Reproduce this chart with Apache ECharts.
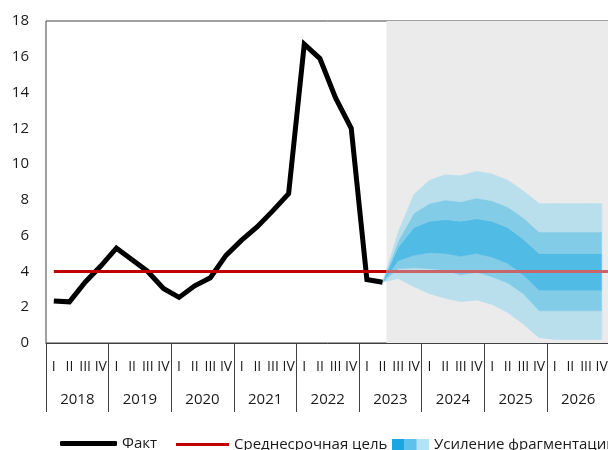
<!DOCTYPE html>
<html>
<head>
<meta charset="utf-8">
<script src="https://cdn.jsdelivr.net/npm/echarts@6/dist/echarts.min.js"></script>
<style>
html,body{margin:0;padding:0;background:#fff;}
#chart{width:608px;height:450px;}
</style>
</head>
<body>
<div id="chart"></div>
<script>
// ---- data ----
const years = ['2018','2019','2020','2021','2022','2023','2024','2025','2026'];
const quarterNames = ['I','II','III','IV'];
const fact = [2.35,2.3,3.4,4.3, 5.3,4.65,4.0,3.05, 2.55,3.2,3.65,4.9, 5.75,6.5,7.4,8.35, 16.7,15.9,13.7,12.0, 3.55,3.4];
const targetValue = 4;
const fanStartIndex = 21; // 2023 Q2
const outerUp  = [3.4,6.2,8.3,9.1,9.4,9.35,9.6,9.45,9.1,8.5,7.8,7.8,7.8,7.8,7.8];
const midUp    = [3.4,5.7,7.25,7.8,8.0,7.9,8.1,7.95,7.6,7.0,6.2,6.2,6.2,6.2,6.2];
const innerUp  = [3.4,5.35,6.45,6.8,6.9,6.8,6.95,6.8,6.45,5.8,5.0,5.0,5.0,5.0,5.0];
const innerLow = [3.4,4.6,4.9,5.05,5.0,4.85,5.0,4.8,4.45,3.8,2.95,2.95,2.95,2.95,2.95];
const midLow   = [3.4,4.15,4.2,4.15,4.05,3.8,3.95,3.7,3.35,2.75,1.8,1.8,1.8,1.8,1.8];
const outerLow = [3.4,3.6,3.15,2.75,2.5,2.3,2.4,2.15,1.7,1.05,0.3,0.2,0.2,0.2,0.2];
const forecastZoneStart = 21.75;

// ---- build ----
const quarterCount = years.length * 4;
const quarterLabels = [];
years.forEach(() => quarterNames.forEach(q => quarterLabels.push(q)));
const pos = i => i + 0.5;
const factData = fact.map((v, i) => [pos(i), v]);
const targetHist = [[pos(0), targetValue], [forecastZoneStart, targetValue]];
const targetFcst = [[forecastZoneStart, targetValue], [quarterCount, targetValue]];

const FONT = 'Open Sans';
const cLight = '#b9deec', cMid = '#83cce7', cDark = '#50bbe4';
const bands = [
  { lo: outerLow, hi: midLow, color: cLight },
  { lo: midLow, hi: innerLow, color: cMid },
  { lo: innerLow, hi: innerUp, color: cDark },
  { lo: innerUp, hi: midUp, color: cMid },
  { lo: midUp, hi: outerUp, color: cLight }
];

const svgIcon = '<svg xmlns="http://www.w3.org/2000/svg" width="37" height="12">' +
  '<rect x="0" y="0" width="12.6" height="12" fill="#1aa6e2"/>' +
  '<rect x="12.3" y="0" width="12.6" height="12" fill="#5cc2ec"/>' +
  '<rect x="24.6" y="0" width="12.4" height="12" fill="#b2e2f5"/></svg>';
const fanIcon = 'image://data:image/svg+xml;charset=utf-8,' + encodeURIComponent(svgIcon);

function renderBand(params, api) {
  const b = bands[params.dataIndex];
  const pts = [];
  b.hi.forEach((v, i) => pts.push(api.coord([pos(fanStartIndex + i), v])));
  for (let i = b.lo.length - 1; i >= 0; i--) pts.push(api.coord([pos(fanStartIndex + i), b.lo[i]]));
  return { type: 'polygon', shape: { points: pts }, style: { fill: b.color, stroke: b.color, lineWidth: 0.5 } };
}

const chart = echarts.init(document.getElementById('chart'), null, { renderer: 'canvas' });
chart.setOption({
  animation: false,
  textStyle: { fontFamily: FONT },
  grid: { left: 46, top: 21, width: 563.5, height: 322, show: true, borderColor: '#404040', borderWidth: 1,
          backgroundColor: 'transparent', containLabel: false, outerBoundsMode: 'none' },
  xAxis: [
    { type: 'value', min: 0, max: quarterCount, show: false },
    { type: 'category', data: quarterLabels, boundaryGap: true, position: 'bottom',
      axisLine: { show: true, lineStyle: { color: '#404040', width: 1 } },
      axisTick: { show: false },
      axisLabel: { interval: 0, fontSize: 14, color: '#1a1a1a', margin: 17, fontFamily: FONT } },
    { type: 'category', data: years, boundaryGap: true, position: 'bottom',
      axisLine: { show: false },
      axisTick: { show: true, length: 69, lineStyle: { color: '#404040', width: 1 } },
      axisLabel: { interval: 0, fontSize: 15, color: '#1a1a1a', margin: 49, fontFamily: FONT } }
  ],
  yAxis: {
    type: 'value', min: 0, max: 18, interval: 2,
    axisLine: { show: false }, axisTick: { show: false }, splitLine: { show: false },
    axisLabel: { fontSize: 15, color: '#1a1a1a', margin: 17, fontFamily: FONT }
  },
  legend: [
    { left: 60, top: 436, padding: 0, itemWidth: 57, itemHeight: 5, itemGap: 0,
      textStyle: { fontSize: 15, color: '#1a1a1a', fontFamily: FONT },
      data: [{ name: 'Факт', icon: 'roundRect', itemStyle: { color: '#000' } }] },
    { left: 176, top: 437, padding: 0, itemWidth: 53, itemHeight: 3, itemGap: 0,
      textStyle: { fontSize: 15, color: '#1a1a1a', fontFamily: FONT },
      data: [{ name: 'Среднесрочная цель', icon: 'rect', itemStyle: { color: '#c00000' } }] },
    { left: 392, top: 437, padding: 0, itemWidth: 37, itemHeight: 12, itemGap: 0,
      textStyle: { fontSize: 15, color: '#1a1a1a', fontFamily: FONT },
      data: [{ name: 'Усиление фрагментации', icon: fanIcon }] }
  ],
  series: [
    { name: 'zone', type: 'line', data: [[forecastZoneStart, targetValue]], xAxisIndex: 0,
      symbol: 'none', silent: true, z: 1, lineStyle: { width: 0, opacity: 0 },
      markArea: { silent: true, itemStyle: { color: '#ebebeb' },
        data: [[{ xAxis: forecastZoneStart, yAxis: 0 }, { xAxis: quarterCount, yAxis: 18 }]] } },
    { name: 'Усиление фрагментации', type: 'custom', xAxisIndex: 0, z: 2, silent: true,
      renderItem: renderBand, data: bands.map((b, i) => [pos(fanStartIndex), b.lo[0], i]),
      itemStyle: { color: cDark } },
    { name: 'Факт', type: 'line', data: factData, xAxisIndex: 0, symbol: 'none', z: 3,
      lineStyle: { color: '#000', width: 5, join: 'miter' }, itemStyle: { color: '#000' } },
    { name: 'Среднесрочная цель', type: 'line', data: targetHist, xAxisIndex: 0, symbol: 'none', z: 4,
      lineStyle: { width: 3, color: '#c00000' }, itemStyle: { color: '#c00000' } },
    { name: 'target-forecast', type: 'line', data: targetFcst, xAxisIndex: 0, symbol: 'none', z: 4,
      lineStyle: { width: 3, color: '#c8646a' }, itemStyle: { color: '#c8646a' } }
  ]
});
</script>
</body>
</html>
